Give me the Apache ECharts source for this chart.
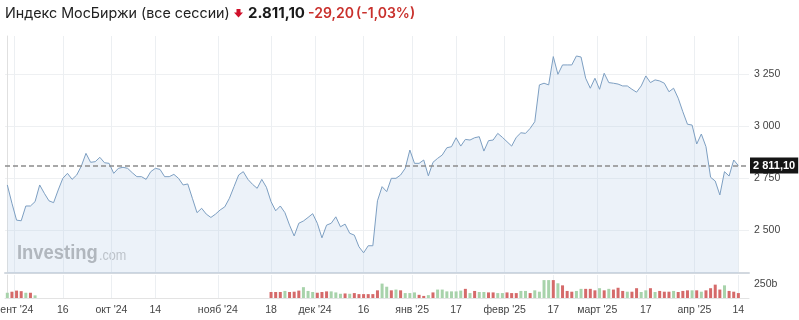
<!DOCTYPE html>
<html><head><meta charset="utf-8">
<script src="https://cdn.jsdelivr.net/npm/echarts@6/dist/echarts.min.js"></script>
<style>html,body{margin:0;padding:0;background:#fff}#c{width:799px;height:320px}</style>
</head><body><div id="c"></div>
<script>
// Daily closes (trading-day index 0..158)
const closes = [
  2718,2630,2549,2546,2617,2617,2638,2718,2678,2642,
  2633,2694,2750,2774,2745,2766,2809,2870,2827,2830,
  2851,2825,2822,2774,2798,2803,2798,2777,2758,2758,
  2745,2782,2798,2793,2758,2758,2769,2750,2718,2723,
  2654,2585,2606,2578,2562,2578,2598,2613,2654,2710,
  2766,2782,2745,2721,2702,2745,2707,2638,2594,2617,
  2585,2525,2473,2534,2545,2562,2580,2534,2464,2525,
  2534,2565,2517,2530,2486,2477,2421,2392,2426,2426,
  2642,2710,2686,2750,2750,2766,2798,2886,2822,2822,
  2838,2762,2827,2846,2862,2897,2902,2945,2905,2937,
  2934,2945,2950,2881,2931,2934,2966,2947,2926,2905,
  2947,2969,2966,2990,3022,3199,3207,3199,3335,3250,
  3295,3295,3295,3338,3333,3231,3183,3231,3178,3255,
  3210,3207,3203,3194,3194,3178,3164,3194,3242,3210,
  3223,3218,3207,3166,3183,3135,3070,3010,3006,2915,
  2963,2902,2755,2737,2670,2782,2761,2838,2811.10
];
const lastClose = 2811.10;
const lastCloseText = "2 811,10";

// Volumes (billions); early block starts at index 0, late block at index 57
const volEarly = [96,115,135,125,96,96,48];
const volEarlyDir = "grrrgrg";
const volLateStart = 57;
const volLate = [
  110,110,110,129,110,115,135,198,129,110,
  96,110,121,121,102,77,83,77,90,71,
  71,71,71,140,263,206,140,154,140,
  90,90,102,58,38,52,102,154,154,121,
  121,121,135,167,90,129,110,110,102,102,
  90,90,102,90,90,129,129,90,140,115,
  327,327,327,269,231,129,115,129,167,167,
  167,140,179,140,167,154,187,129,115,115,
  179,110,140,179,110,129,115,115,129,110,
  129,140,140,140,115,140,179,244,154,231,
  129,115,90
];
const volLateDir =
  "rrrgrrrgggrrrgggrgrrrrrrggrgr" +
  "gggrrgrggg" + "gggrgrggrr" + "ggrrrggrgg" + "ggrgrrrggr" +
  "rrgrgrrrgr" + "rggrgrrrgr" + "rrgrgrrrrg" + "rrr";

// X tick positions (trading-day index; month ticks sit on month boundaries) and texts
const xTickPos  = [1.5, 12, 22.5, 32, 45.5, 57, 66.5, 77, 87.5, 97, 107.5, 118, 127.5, 138, 148.5, 158];
const xTickText = ["сент '24","16","окт '24","14","нояб '24","18","дек '24","16","янв '25","17","февр '25","17","март '25","17","апр '25","14"];
const yTicks = [2500, 2750, 3000, 3250];
const volTicks = [250];

const UP = '#a8d3ab', DOWN = '#d56a6a';
const FONT = '"Liberation Sans", Arial, sans-serif';

const volData = [];
volEarly.forEach((v, i) => volData.push({value: [i, v], itemStyle: {color: volEarlyDir[i] === 'g' ? UP : DOWN}}));
volLate.forEach((v, k) => volData.push({value: [volLateStart + k, v], itemStyle: {color: volLateDir[k] === 'g' ? UP : DOWN}}));

const fmtThousands = v => String(v).replace(/\B(?=(\d{3})+(?!\d))/g, ' ');
const xFmt = v => { const k = xTickPos.indexOf(v); return k >= 0 ? xTickText[k] : ''; };

const chart = echarts.init(document.getElementById('c'), null, {renderer: 'canvas'});
chart.setOption({
  animation: false,
  backgroundColor: '#fff',
  textStyle: {fontFamily: FONT},
  grid: [
    {left: 5, right: 50, top: 36, height: 237, containLabel: false, outerBoundsMode: 'none'},
    {left: 5, right: 50, top: 275, height: 23, containLabel: false, outerBoundsMode: 'none'}
  ],
  xAxis: [
    {type: 'value', gridIndex: 0, min: -0.5, max: 160.3,
     axisLine: {show: true, onZero: false, lineStyle: {color: '#d2d8df', width: 2}},
     axisTick: {show: false, customValues: xTickPos},
     axisLabel: {show: false, customValues: xTickPos},
     splitLine: {show: true, lineStyle: {color: '#eceff2', width: 1}}},
    {type: 'value', gridIndex: 1, min: -0.5, max: 160.3,
     axisLine: {show: true, onZero: false, lineStyle: {color: '#e3e3e3', width: 1}},
     axisTick: {show: false, customValues: xTickPos},
     axisLabel: {show: true, customValues: xTickPos, formatter: xFmt, color: '#444', fontSize: 10.5, margin: 7, fontFamily: FONT,
                 alignMinLabel: 'center', alignMaxLabel: 'center', hideOverlap: false},
     splitLine: {show: true, lineStyle: {color: '#eceff2', width: 1}}}
  ],
  yAxis: [
    {type: 'value', gridIndex: 0, position: 'right', min: 2295, max: 3434,
     axisLine: {show: true, lineStyle: {color: '#e0e0e0'}},
     axisTick: {show: false, customValues: yTicks},
     axisLabel: {show: true, customValues: yTicks, formatter: fmtThousands, color: '#444', fontSize: 10.5, margin: 5, fontFamily: FONT},
     splitLine: {show: true, lineStyle: {color: '#eef0f2', width: 1}}},
    {type: 'value', gridIndex: 1, position: 'right', min: 0, max: 420,
     axisLine: {show: true, lineStyle: {color: '#e0e0e0'}},
     axisTick: {show: false, customValues: volTicks},
     axisLabel: {show: true, customValues: volTicks, formatter: v => v + 'b', color: '#444', fontSize: 10.5, margin: 5, fontFamily: FONT},
     splitLine: {show: false}}
  ],
  series: [
    {type: 'line', xAxisIndex: 0, yAxisIndex: 0,
     data: closes.map((v, i) => [i, v]),
     showSymbol: false, symbol: 'none',
     lineStyle: {color: '#7d9fc2', width: 1},
     areaStyle: {color: 'rgba(178,204,230,0.36)', origin: 'start'},
     markLine: {
       silent: true, symbol: 'none', animation: false,
       data: [{yAxis: lastClose}],
       lineStyle: {color: '#8c8c8c', type: [5, 3], width: 1.5},
       label: {position: 'end', distance: 1, formatter: lastCloseText,
               backgroundColor: '#151515', color: '#fff', fontWeight: 'bold',
               fontSize: 11, padding: [3, 3, 2, 3], fontFamily: FONT}
     }},
    {type: 'bar', xAxisIndex: 1, yAxisIndex: 1, barWidth: 3, data: volData}
  ],
  graphic: [
    {type: 'text', left: 5, top: 7, style: {text: 'Индекс МосБиржи (все сессии)', font: '14.3px Inter, "Liberation Sans", sans-serif', fill: '#222'}},
    {type: 'polygon', shape: {points: [[236.5,9],[240.5,9],[240.5,12.5],[243,12.5],[238.5,17.5],[234,12.5],[236.5,12.5]]}, style: {fill: '#d0112b'}},
    {type: 'text', left: 248, top: 6, style: {text: '2.811,10', font: 'bold 15px Inter, "Liberation Sans", sans-serif', fill: '#1a1a1a'}},
    {type: 'text', left: 308, top: 7, style: {text: '-29,20', font: '600 14px Inter, "Liberation Sans", sans-serif', fill: '#c9302c'}},
    {type: 'text', left: 356, top: 7, style: {text: '(-1,03%)', font: '600 14px Inter, "Liberation Sans", sans-serif', fill: '#c9302c'}},
    {type: 'text', x: 17, y: 253.5, scaleX: 0.92, style: {text: 'Investing', font: 'bold 20px "Liberation Sans", Arial, sans-serif', fill: '#b0b0b0', verticalAlign: 'middle'}},
    {type: 'text', x: 99, y: 255.5, scaleX: 0.84, style: {text: '.com', font: '15px "Liberation Sans", Arial, sans-serif', fill: '#c0c0c0', verticalAlign: 'middle'}}
  ]
});
</script>
</body></html>
